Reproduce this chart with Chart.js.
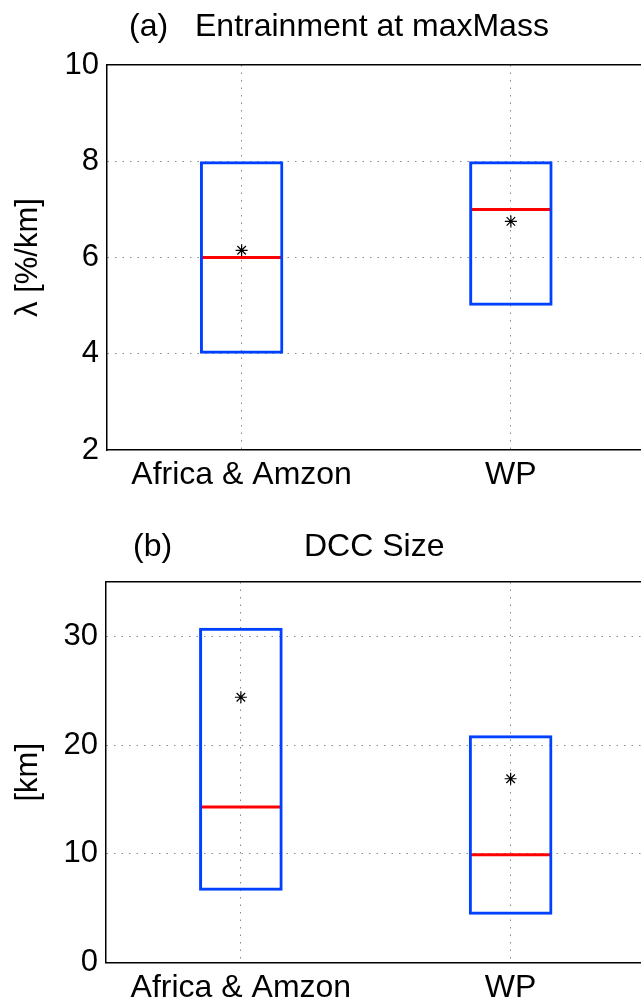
<!DOCTYPE html>
<html>
<head>
<meta charset="utf-8">
<script src="https://cdn.jsdelivr.net/npm/chart.js@4.4.1/dist/chart.umd.min.js"></script>
<style>
  html, body { margin: 0; padding: 0; background: #fff; overflow: hidden; width: 641px; height: 1006px; }
  .panel { position: absolute; left: 0; }
  .panel canvas { display: block; }
  .ttl { position: absolute; font-family: 'Liberation Sans', Arial, Helvetica, sans-serif; font-size: 32px; line-height: 32px; color: #000; white-space: nowrap; }
</style>
</head>
<body>
<div class="panel" style="top:0"><canvas id="chartA" width="689" height="500"></canvas></div>
<div class="panel" style="top:500px"><canvas id="chartB" width="689" height="506"></canvas></div>
<span class="ttl" style="left:129px; top:9px">(a)</span>
<span class="ttl" style="left:195px; top:9px">Entrainment at maxMass</span>
<span class="ttl" style="left:133px; top:529px">(b)</span>
<span class="ttl" style="left:304px; top:529px">DCC Size</span>
<script>
// categories
const regions = ['Africa & Amzon', 'WP'];

// (a) entrainment rate, %/km
const lambdaQ1 = [4, 5];
const lambdaQ3 = [8, 8];
const lambdaMedian = [6, 7];
const lambdaMean = [6.15, 6.75];
const lambdaTicks = [2, 4, 6, 8, 10];

// (b) DCC size, km
const sizeQ1 = [6.6, 4.4];
const sizeQ3 = [30.8, 20.9];
const sizeMedian = [14.3, 9.9];
const sizeMean = [24.4, 16.9];
const sizeTicks = [0, 10, 20, 30];
const sizeMax = 35;

const FONT = "'Liberation Sans', Arial, Helvetica, sans-serif";
Chart.defaults.font.family = FONT;
Chart.defaults.color = '#000';

const boxBlue = '#0040ff';
const medRed = '#ff0000';
const gridGray = '#8a8a8a';

function makePanel(canvas, cfg) {
  const yMin = cfg.ticks[0];
  const yMax = cfg.max;
  return new Chart(canvas.getContext('2d'), {
    type: 'bar',
    data: {
      labels: regions,
      datasets: [
        {
          label: 'box',
          data: cfg.q1.map((v, i) => [v, cfg.q3[i]]),
          backgroundColor: 'rgba(0,0,0,0)',
          borderColor: boxBlue,
          borderWidth: 3,
          borderSkipped: false,
          barPercentage: 0.31,
          categoryPercentage: 1,
          grouped: false
        },
        {
          label: 'median',
          type: 'line',
          data: cfg.median,
          showLine: false,
          pointStyle: 'line',
          pointRadius: 40.5,
          pointHoverRadius: 40.5,
          pointBorderColor: medRed,
          pointBorderWidth: 3
        },
        {
          label: 'mean',
          type: 'line',
          data: cfg.mean,
          showLine: false,
          pointStyle: 'star',
          pointRadius: 6,
          pointHoverRadius: 6,
          pointBorderColor: '#000',
          pointBackgroundColor: 'rgba(0,0,0,0)',
          pointBorderWidth: 1.2
        }
      ]
    },
    options: {
      responsive: false,
      animation: false,
      events: [],
      layout: { padding: { top: cfg.padTop, left: 0, right: 0, bottom: 0 } },
      plugins: { legend: { display: false }, tooltip: { enabled: false }, title: { display: false } },
      scales: {
        x: {
          type: 'category',
          position: 'bottom',
          offset: true,
          grid: { display: true, offset: false, drawTicks: false, color: gridGray, lineWidth: 1 },
          border: { display: true, color: '#000', width: 1.5, dash: [1.5, 6] },
          ticks: { font: { size: 32 }, color: '#000', padding: 6, maxRotation: 0, autoSkip: false },
          afterFit: s => { s.height = cfg.xHeight; }
        },
        xTop: {
          type: 'category',
          position: 'top',
          labels: regions,
          offset: true,
          grid: { display: false, drawTicks: false },
          border: { display: true, color: '#000', width: 1.5 },
          ticks: { display: false },
          afterFit: s => { s.height = 0; }
        },
        y: {
          type: 'linear',
          min: yMin,
          max: yMax,
          afterBuildTicks: s => { s.ticks = cfg.ticks.map(v => ({ value: v })); },
          grid: {
            drawTicks: false,
            lineWidth: 1,
            color: c => (c.tick && (c.tick.value === yMin || c.tick.value === yMax)) ? 'rgba(0,0,0,0)' : gridGray
          },
          border: { display: true, color: '#000', width: 1.5, dash: [1.5, 6] },
          ticks: { font: { size: 31 }, color: '#000', padding: 8 },
          title: {
            display: true,
            text: cfg.yTitle,
            font: { size: 31 },
            color: '#000',
            padding: { top: 10, bottom: 0 }
          },
          afterFit: s => { s.width = cfg.yWidth; }
        }
      }
    }
  });
}

makePanel(document.getElementById('chartA'), {
  q1: lambdaQ1, q3: lambdaQ3, median: lambdaMedian, mean: lambdaMean,
  ticks: lambdaTicks, max: 10, yTitle: 'λ [%/km]',
  padTop: 65, xHeight: 50, yWidth: 107
});

makePanel(document.getElementById('chartB'), {
  q1: sizeQ1, q3: sizeQ3, median: sizeMedian, mean: sizeMean,
  ticks: sizeTicks, max: sizeMax, yTitle: '[km]',
  padTop: 82, xHeight: 43, yWidth: 106
});
</script>
</body>
</html>
